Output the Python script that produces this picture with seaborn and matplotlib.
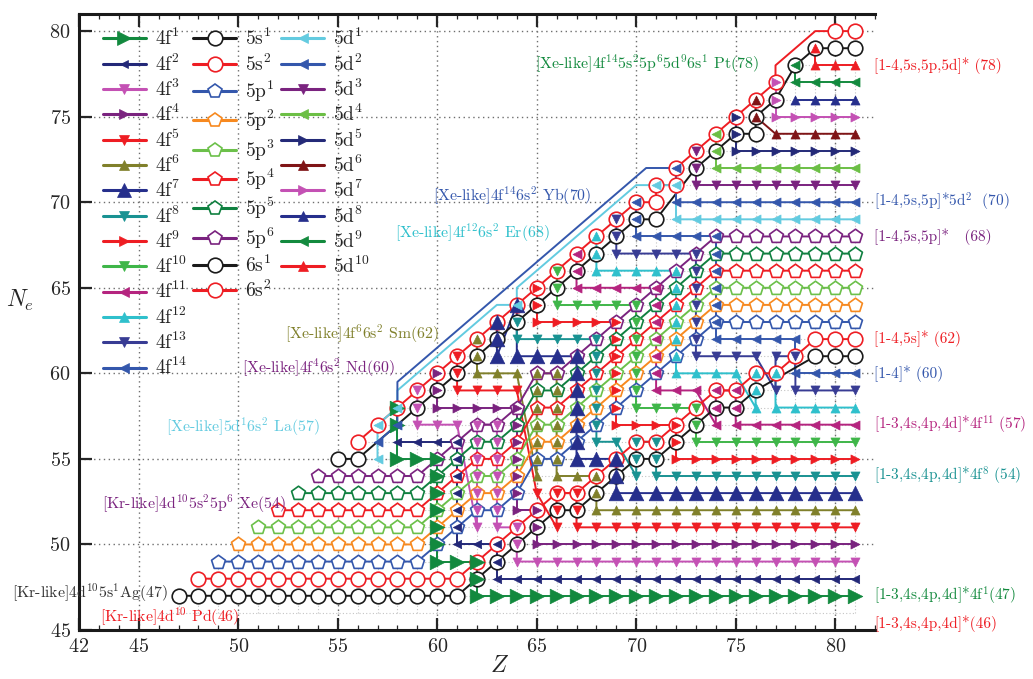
import matplotlib
matplotlib.use("Agg")
import matplotlib.pyplot as plt
from matplotlib.lines import Line2D
from matplotlib.ticker import MultipleLocator
import numpy as np
import pandas as pd
import seaborn as sns

# Open subshells of the ground configuration beyond the [Kr]4d10 core.
# One list per nuclear charge Z; entry i belongs to Ne = 47 + i.
# "a:b" inside a token is a run over successive Ne (e.g. "5p1:6").
z47 = ["5s1"]
z48 = ["5s1", "5s2"]
z49 = ["5s1", "5s2", "5p1"]
z50 = ["5s1", "5s2", "5p1:2"]
z51 = ["5s1", "5s2", "5p1:3"]
z52 = ["5s1", "5s2", "5p1:4"]
z53 = ["5s1", "5s2", "5p1:5"]
z54 = ["5s1", "5s2", "5p1:6"]
z55 = ["5s1", "5s2", "5p1:6", "6s1"]
z56 = ["5s1", "5s2", "5p1:6", "6s1", "6s2"]
z57 = ["5s1", "5s2", "5p1:6", "5d1", "5d2", "5d1+6s2"]
z58 = ["5s1", "5s2", "5p1:6", "4f1", "4f2", "4f1+5d2", "4f1+5d1+6s2"]
z59 = ["5s1", "5s2", "5p1:6", "4f1:3", "4f3+6s1", "4f3+6s2"]
z60 = ["5s1", "5s2", "4f1", "4f1+5p1:6", "4f2:4", "4f4+6s1", "4f4+6s2"]
z61 = ["5s1", "5s2", "4f1:2", "4f2+5p1:6", "4f3:5", "4f5+6s1", "4f5+6s2"]
z62 = ["4f1", "4f1+5s1", "4f1+5s2", "4f2:3", "4f3+5p1:6", "4f4:6", "4f6+6s1", "4f6+6s2"]
z63 = ["4f1:2", "4f2+5s1", "4f2+5s2", "4f3", "4f3+5p1:6", "4f4:7", "4f7+6s1", "4f7+6s2"]
z64 = ["4f1:3", "4f3+5s1", "4f3+5s2", "4f4", "4f4+5p1:6", "4f5:8", "4f8+6s1",
       "4f7+5d1+6s2"]
z65 = ["4f1:4", "4f4+5s1", "4f4+5s2", "4f5:6", "4f6+5p1:6", "4f7:9", "4f9+6s1", "4f9+6s2"]
z66 = ["4f1:5", "4f5+5s1", "4f5+5s2", "4f6", "4f6+5p1:6", "4f7:10", "4f10+6s1", "4f10+6s2"]
z67 = ["4f1:5", "4f5+5s1", "4f5+5s2", "4f6:7", "4f7+5p1:6", "4f8:11", "4f11+6s1", "4f11+6s2"]
z68 = ["4f1:6", "4f6+5s1", "4f6+5s2", "4f7:8", "4f8+5p1:6", "4f9:12", "4f12+6s1", "4f12+6s2"]
z69 = ["4f1:7", "4f7+5s1", "4f7+5s2", "4f8:9", "4f9+5p1:6", "4f10:13", "4f13+6s1", "4f13+6s2"]
z70 = ["4f1:8", "4f8+5s1", "4f8+5s2", "4f9:10", "4f10+5p1:6", "4f11:14", "4f14+6s1", "4f14+6s2"]
z71 = ["4f1:8", "4f8+5s1", "4f8+5s2", "4f9:11", "4f11+5p1:6", "4f12:14", "6s1", "6s2", "5d1+6s2"]
z72 = ["4f1:9", "4f9+5s1", "4f9+5s2", "4f10:12", "4f12+5p1:6", "4f13:14", "5d1:2",
       "5d1+6s2", "5d2+6s2"]
z73 = ["4f1:10", "4f10+5s1", "4f10+5s2", "4f11:13", "4f13+5p1:6", "4f14", "5d1:3",
       "5d3+6s1", "5d3+6s2"]
z74 = ["4f1:11", "4f11+5s1", "4f11+5s2", "4f12:14", "4f14+5p1:6", "5d1:4", "5d4+6s1", "5d4+6s2"]
z75 = ["4f1:11", "4f11+5s1", "4f11+5s2", "4f12:14", "5p1:6", "5d1:5", "5d5+6s1", "5d5+6s2"]
z76 = ["4f1:12", "4f12+5s1", "4f12+5s2", "4f13:14", "5p1:6", "5d1:5", "6s1", "5d6+6s1", "5d6+6s2"]
z77 = ["4f1:13", "4f12+5s2", "4f13:14", "5p1:6", "5d1:7", "5d7+6s1", "5d7+6s2"]
z78 = ["4f1:14", "4f13+5s2", "4f14", "5p1:6", "5d1:9", "5d9+6s1"]
z79 = ["4f1:14", "5s1", "5s2", "5p1:6", "5d1:10", "5d10+6s1"]
z80 = ["4f1:14", "5s1", "5s2", "5p1:6", "5d1:10", "6s1", "6s2"]
z81 = ["4f1:14", "5s1", "5s2", "5p1:6", "5d1:10", "6s1", "6s2"]

Z_VALUES = list(range(47, 82))
COLUMNS = [z47, z48, z49, z50, z51, z52, z53, z54, z55, z56, z57, z58, z59, z60, z61,
           z62, z63, z64, z65, z66, z67, z68, z69, z70, z71, z72, z73, z74, z75, z76,
           z77, z78, z79, z80, z81]

# legend columns
F_SHELLS = ["4f1", "4f2", "4f3", "4f4", "4f5", "4f6", "4f7",
            "4f8", "4f9", "4f10", "4f11", "4f12", "4f13", "4f14"]
SP_SHELLS = ["5s1", "5s2", "5p1", "5p2", "5p3", "5p4", "5p5", "5p6", "6s1", "6s2"]
D_SHELLS = ["5d1", "5d2", "5d3", "5d4", "5d5", "5d6", "5d7", "5d8", "5d9", "5d10"]

# colour, marker, marker size, hollow
RED = "#ee1d23"
STYLE = {
    "4f1": ("#12893e", ">", 10.5, False), "4f2": ("#232878", "<", 6, False),
    "4f3": ("#c451b4", "v", 6.5, False), "4f4": ("#7a237f", ">", 6.5, False),
    "4f5": (RED, "v", 6.5, False), "4f6": ("#80802b", "^", 6.5, False),
    "4f7": ("#262f8c", "^", 10.5, False), "4f8": ("#199292", "v", 6.5, False),
    "4f9": (RED, ">", 6.5, False), "4f10": ("#3fb649", "v", 6.5, False),
    "4f11": ("#b5247f", "<", 6.5, False), "4f12": ("#2fc0cc", "^", 6.5, False),
    "4f13": ("#383c94", "v", 6.5, False), "4f14": ("#3457ac", "<", 6.5, False),
    "5s1": ("#1a1a1a", "o", 10.5, True), "5s2": (RED, "o", 10.5, True),
    "5p1": ("#3457ac", "p", 10.5, True), "5p2": ("#f7891f", "p", 10.5, True),
    "5p3": ("#6cc04a", "p", 10.5, True), "5p4": (RED, "p", 10.5, True),
    "5p5": ("#108040", "p", 10.5, True), "5p6": ("#7a237f", "p", 10.5, True),
    "6s1": ("#1a1a1a", "o", 10.5, True), "6s2": (RED, "o", 10.5, True),
    "5d1": ("#63cbe0", "<", 6.5, False), "5d2": ("#3457ac", "<", 6.5, False),
    "5d3": ("#7a237f", "v", 6.5, False), "5d4": ("#6cbf45", "<", 6.5, False),
    "5d5": ("#242a78", ">", 6.5, False), "5d6": ("#7f1416", "^", 6.5, False),
    "5d7": ("#c451b4", ">", 6.5, False), "5d8": ("#262f8c", "^", 6.5, False),
    "5d9": ("#138a3e", "<", 6.5, False), "5d10": (RED, "^", 6.5, False),
}
# distance of the detour lane above the neutral-atom diagonal
LANE = {"5d2": 1.5}


def expand(token):
    parts = token.split("+")
    for i, p in enumerate(parts):
        if ":" in p:
            head, hi = p.split(":")
            shell, lo = head[:2], int(head[2:])
            return ["+".join(parts[:i] + [f"{shell}{n}"] + parts[i + 1:])
                    for n in range(lo, int(hi) + 1)]
    return [token]


records = []
for z, col in zip(Z_VALUES, COLUMNS):
    labels = [lab for tok in col for lab in expand(tok)]
    for i, lab in enumerate(labels):
        for shell in lab.split("+"):
            records.append((shell, z, 47 + i))
df = pd.DataFrame(records, columns=["shell", "Z", "Ne"])


def path(sub):
    """Walk the points of one subshell column by column, snaking inside a column."""
    zs = sorted(sub["Z"].unique())
    cols = [sorted(sub.loc[sub["Z"] == z, "Ne"].tolist()) for z in zs]
    xs, ys = [], []
    for k, (z, nes) in enumerate(zip(zs, cols)):
        if k + 1 < len(cols):
            zn, nxt = zs[k + 1], cols[k + 1]
            dist = lambda n: min(np.hypot(zn - z, m - n) for m in (nxt[0], nxt[-1]))
            if dist(nes[0]) < dist(nes[-1]):
                nes = nes[::-1]
        elif k > 0:
            pz, pn = xs[-1], ys[-1]
            if np.hypot(z - pz, nes[-1] - pn) < np.hypot(z - pz, nes[0] - pn):
                nes = nes[::-1]
        xs += [z] * len(nes)
        ys += nes
    return xs, ys


def detour(xs, ys, lane):
    """Long jumps onto a neutral atom run along a lane just above the diagonal."""
    rx, ry = [xs[0]], [ys[0]]
    for z1, n1, z2, n2 in zip(xs[:-1], ys[:-1], xs[1:], ys[1:]):
        if z2 - z1 >= 3 and n2 == z2:
            rx += [z1, z2 - lane]
            ry += [max(n1, z1 + lane), z2]
        rx.append(z2)
        ry.append(n2)
    return rx, ry


sns.set_style("ticks")
plt.rcParams.update({
    "font.family": "cmr10",
    "mathtext.fontset": "cm",
    "axes.formatter.use_mathtext": True,
    "axes.unicode_minus": False,
})

W, H = 1033, 679
fig = plt.figure(figsize=(W / 100, H / 100), dpi=100)
L, R, T, B = 79, 875, 14, 630
ax = fig.add_axes([L / W, 1 - B / H, (R - L) / W, (B - T) / H])
ax.set_xlim(42, 82)
ax.set_ylim(45, 81)

# fine dotted mesh over the occupied triangle
mesh = dict(color="#c4c4c4", lw=0.8, ls=(0, (1, 2)), zorder=0.5)
for z in range(46, 82):
    ax.plot([z, z], [46, min(z, 80)], **mesh)
for ne in range(46, 81):
    ax.plot([max(ne, 46), 81], [ne, ne], **mesh)

ax.set_xticks([42, 45, 50, 55, 60, 65, 70, 75, 80])
ax.set_yticks([45, 50, 55, 60, 65, 70, 75, 80])
ax.xaxis.set_minor_locator(MultipleLocator(1))
ax.grid(True, which="major", color="#6e6e6e", lw=1.0, ls=(0, (1, 2.5)), zorder=0.6)
ax.tick_params(which="major", direction="in", length=9, width=1.6, top=True,
               right=False, labelsize=14.5, pad=6)
ax.tick_params(which="minor", direction="in", length=3.5, width=0.9, top=True, right=False)
for side in ("left", "bottom", "top"):
    ax.spines[side].set_linewidth(2.2)
    ax.spines[side].set_color("#1a1a1a")
ax.spines["right"].set_visible(False)

ALL = F_SHELLS + SP_SHELLS + D_SHELLS
for shell in ALL:
    sub = df[df["shell"] == shell]
    if sub.empty:
        continue
    c, m, ms, hollow = STYLE[shell]
    xs, ys = detour(*path(sub), LANE.get(shell, 1.0))
    sns.lineplot(x=xs, y=ys, sort=False, estimator=None, color=c, lw=1.4, ax=ax,
                 zorder=2)
for shell in ALL:
    sub = df[df["shell"] == shell]
    if sub.empty:
        continue
    c, m, ms, hollow = STYLE[shell]
    if hollow:
        sns.scatterplot(x=sub["Z"], y=sub["Ne"], marker=m, s=ms ** 2, facecolor="white",
                        edgecolor=c, linewidth=1.2, ax=ax, zorder=3)
    else:
        sns.scatterplot(x=sub["Z"], y=sub["Ne"], marker=m, s=ms ** 2, color=c,
                        edgecolor=c, linewidth=0.5, ax=ax, zorder=4)


def tex(shell):
    return f"{shell[:2]}$^{{{shell[2:]}}}$"


handles, labels = [], []
for group in (F_SHELLS, SP_SHELLS, D_SHELLS):
    for shell in group:
        c, m, ms, hollow = STYLE[shell]
        handles.append(Line2D([0], [0], color=c, lw=2.2, marker=m, markersize=ms,
                              markerfacecolor="white" if hollow else c,
                              markeredgecolor=c, markeredgewidth=1.2 if hollow else 0.5))
        labels.append(tex(shell))
    for _ in range(len(F_SHELLS) - len(group)):
        handles.append(Line2D([], [], ls="none"))
        labels.append("")
ax.legend(handles, labels, ncol=3, loc="upper left",
          bbox_to_anchor=((103 - L) / (R - L), (B - 28) / (B - T)), frameon=False,
          fontsize=14, handlelength=2.2, handletextpad=0.45, columnspacing=0.35,
          labelspacing=0.21, borderaxespad=0, borderpad=0)

# element labels along the neutral-atom edge
notes = [
    ("[Kr-like]4d$^{10}$5s$^1$Ag(47)", 46.45, 47.15, "#333333", "right"),
    ("[Kr-like]4d$^{10}$ Pd(46)", 43.05, 45.75, RED, "left"),
    ("[Kr-like]4d$^{10}$5s$^2$5p$^6$ Xe(54)", 43.15, 52.35, "#7a237f", "left"),
    ("[Xe-like]5d$^1$6s$^2$ La(57)", 46.35, 56.85, "#63cbe0", "left"),
    ("[Xe-like]4f$^4$6s$^2$ Nd(60)", 50.2, 60.35, "#7a237f", "left"),
    ("[Xe-like]4f$^6$6s$^2$ Sm(62)", 52.35, 62.3, "#80802b", "left"),
    ("[Xe-like]4f$^{12}$6s$^2$ Er(68)", 57.9, 68.2, "#2fc0cc", "left"),
    ("[Xe-like]4f$^{14}$6s$^2$ Yb(70)", 59.8, 70.4, "#3457ac", "left"),
    ("[Xe-like]4f$^{14}$5s$^2$5p$^6$5d$^9$6s$^1$ Pt(78)", 64.9, 78.1, "#138a3e", "left"),
]
for text, x, y, c, ha in notes:
    ax.text(x, y, text, color=c, fontsize=11.4, ha=ha, va="center", clip_on=False, zorder=6)

# closed-shell cores on the right-hand side
cores = [
    ("[1-4,5s,5p,5d]* (78)", 78, RED),
    ("[1-4,5s,5p]*5d$^2$  (70)", 70, "#3457ac"),
    ("[1-4,5s,5p]*   (68)", 68, "#7a237f"),
    ("[1-4,5s]* (62)", 62, RED),
    ("[1-4]* (60)", 60, "#3457ac"),
    ("[1-3,4s,4p,4d]*4f$^{11}$ (57)", 57, "#b5247f"),
    ("[1-3,4s,4p,4d]*4f$^8$ (54)", 54, "#199292"),
    ("[1-3,4s,4p,4d]*4f$^1$(47)", 47, "#138a3e"),
    ("[1-3,4s,4p,4d]*(46)", 45.35, RED),
]
for text, y, c in cores:
    ax.text(81.95, y, text, color=c, fontsize=11, ha="left", va="center", clip_on=False)

ax.set_xlabel("$Z$", fontsize=17, va="center")
ax.set_ylabel("$N_e$", fontsize=17, rotation=0, va="center", ha="center")
ax.xaxis.set_label_coords((500 - L) / (R - L), (B - 666) / (B - T))
ax.yaxis.set_label_coords((20 - L) / (R - L), (B - 300) / (B - T))

fig.savefig("out.png", dpi=100)
